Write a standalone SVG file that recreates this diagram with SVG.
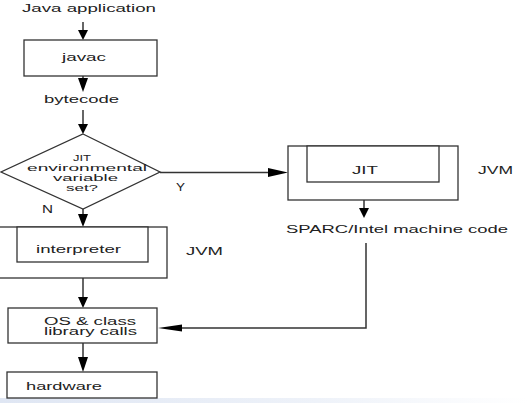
<svg xmlns="http://www.w3.org/2000/svg" width="528" height="403" viewBox="0 0 528 403">
<defs>
<linearGradient id="strip" x1="0" y1="0" x2="1" y2="0">
<stop offset="0" stop-color="#dfe6f3"/>
<stop offset="0.6" stop-color="#eef2f9"/>
<stop offset="1" stop-color="#ffffff"/>
</linearGradient>
</defs>
<style>
text{font-family:"Liberation Sans",Arial,sans-serif;font-size:11px;fill:#222;}
.sm{font-size:10px;}
.xs{font-size:9px;}
.box{fill:#fff;stroke:#333;stroke-width:1.3;}
.ln{fill:none;stroke:#333;stroke-width:1.5;}
.hd{fill:#000;}
</style>
<rect width="528" height="403" fill="#fff"/>
<rect x="0" y="398" width="528" height="5" fill="url(#strip)"/>
<g id="connectors">
<line class="ln" x1="83" y1="22" x2="83" y2="32"/>
<polygon class="hd" points="78,30 88,30 83,40"/>
<line class="ln" x1="83" y1="76" x2="83" y2="80"/>
<polygon class="hd" points="78,78 88,78 83,92"/>
<line class="ln" x1="83" y1="110" x2="83" y2="126"/>
<polygon class="hd" points="78,124 88,124 83,134"/>
<line class="ln" x1="83" y1="209" x2="83" y2="216"/>
<polygon class="hd" points="78,214 88,214 83,227"/>
<line class="ln" x1="83" y1="278" x2="83" y2="300"/>
<polygon class="hd" points="78,297 88,297 83,308"/>
<line class="ln" x1="83" y1="343" x2="83" y2="359"/>
<polygon class="hd" points="78,357 88,357 83,372"/>
<line class="ln" x1="160" y1="172.5" x2="270" y2="172.5"/>
<polygon class="hd" points="268,168 268,177 288,172.5"/>
<line class="ln" x1="364" y1="200" x2="364" y2="210"/>
<polygon class="hd" points="359,208 369,208 364,218"/>
<polyline class="ln" points="366,243 366,328 180,328"/>
<polygon class="hd" points="182,324.5 182,331.5 158,328"/>
</g>
<g id="java-application"><text x="22" y="12" textLength="134" lengthAdjust="spacingAndGlyphs">Java application</text></g>
<g id="javac">
<rect class="box" x="24" y="40" width="133" height="36"/>
<text x="62" y="61" textLength="44" lengthAdjust="spacingAndGlyphs">javac</text>
</g>
<g id="bytecode"><text x="44" y="103" textLength="75" lengthAdjust="spacingAndGlyphs">bytecode</text></g>
<g id="decision">
<polygon class="box" points="83,134 160,172 83,209 1,172"/>
<text class="xs" x="73" y="161" textLength="18" lengthAdjust="spacingAndGlyphs">JIT</text>
<text class="xs" x="27" y="171" textLength="120" lengthAdjust="spacingAndGlyphs">environmental</text>
<text class="xs" x="53" y="181" textLength="65" lengthAdjust="spacingAndGlyphs">variable</text>
<text class="xs" x="66" y="191" textLength="32" lengthAdjust="spacingAndGlyphs">set?</text>
</g>
<g id="label-y"><text x="176" y="191" textLength="9" lengthAdjust="spacingAndGlyphs">Y</text></g>
<g id="label-n"><text x="42" y="213" textLength="11" lengthAdjust="spacingAndGlyphs">N</text></g>
<g id="jvm-jit">
<rect class="box" x="288" y="146" width="170" height="54"/>
<rect class="box" x="307" y="146" width="132" height="36"/>
<text x="352" y="174" textLength="26" lengthAdjust="spacingAndGlyphs">JIT</text>
<text x="478" y="174" textLength="35" lengthAdjust="spacingAndGlyphs">JVM</text>
</g>
<g id="machine-code"><text x="286" y="233" textLength="222" lengthAdjust="spacingAndGlyphs">SPARC/Intel machine code</text></g>
<g id="jvm-interpreter">
<rect class="box" x="-2" y="227" width="169" height="51"/>
<rect class="box" x="17" y="227" width="131" height="35"/>
<text x="36" y="253" textLength="85" lengthAdjust="spacingAndGlyphs">interpreter</text>
<text x="186" y="255" textLength="37" lengthAdjust="spacingAndGlyphs">JVM</text>
</g>
<g id="os-calls">
<rect class="box" x="8" y="308" width="149" height="35"/>
<text class="sm" x="44" y="325" textLength="92" lengthAdjust="spacingAndGlyphs">OS &amp; class</text>
<text class="sm" x="44" y="335" textLength="93" lengthAdjust="spacingAndGlyphs">library calls</text>
</g>
<g id="hardware">
<rect class="box" x="7" y="372" width="150" height="26"/>
<text x="26" y="390" textLength="76" lengthAdjust="spacingAndGlyphs">hardware</text>
</g>
</svg>
